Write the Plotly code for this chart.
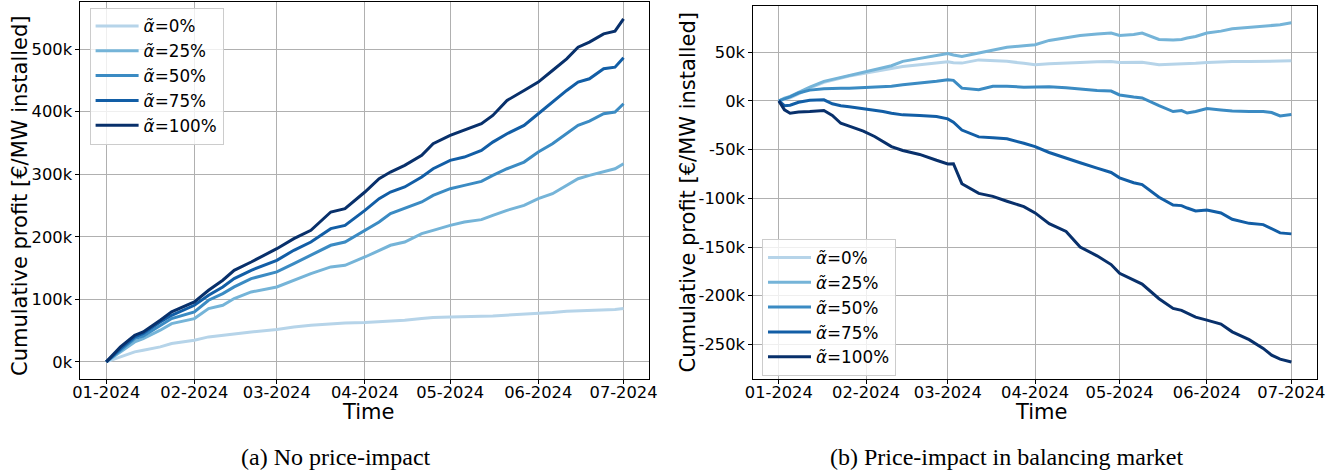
import plotly.graph_objects as go

# ---------------- data (values in thousands of EUR per MW installed) ----------------
labels = ["<i>α̃</i>=0%", "<i>α̃</i>=25%", "<i>α̃</i>=50%", "<i>α̃</i>=75%", "<i>α̃</i>=100%"]
colors = ["#b6d4e9", "#75b4d8", "#3b8bc3", "#125ea6", "#08306b"]

# (a) No price-impact
dates_a = ["2024-01-01", "2024-01-06", "2024-01-11", "2024-01-14", "2024-01-20", "2024-01-24",
           "2024-02-01", "2024-02-06", "2024-02-11", "2024-02-15", "2024-02-21", "2024-03-01",
           "2024-03-07", "2024-03-13", "2024-03-20", "2024-03-25", "2024-04-01", "2024-04-06",
           "2024-04-10", "2024-04-15", "2024-04-21", "2024-04-25", "2024-05-01", "2024-05-06",
           "2024-05-12", "2024-05-16", "2024-05-21", "2024-05-27", "2024-06-01", "2024-06-06",
           "2024-06-11", "2024-06-15", "2024-06-19", "2024-06-24", "2024-06-28", "2024-07-01"]
a_0 = [0, 8.0, 16.0, 18.6, 24.0, 29.3, 34.6, 39.9, 42.6, 45.3, 47.9, 51.7, 55.9, 58.6, 61.2, 62.3,
       62.8, 63.9, 65.5, 66.6, 69.2, 70.8, 71.9, 71.9, 72.9, 73.5, 74.5, 76.1, 77.2, 78.8, 80.9,
       81.5, 82.5, 83.6, 83.6, 85.2]
a_25 = [0, 16.0, 31.9, 37.3, 50.6, 61.2, 69.2, 85.2, 90.5, 101.2, 111.8, 119.8, 130.5, 141.1, 151.8,
        154.4, 167.7, 178.4, 186.4, 191.7, 205.0, 210.3, 218.3, 223.6, 227.4, 234.3, 242.3, 250.3,
        260.9, 268.9, 282.2, 292.9, 298.2, 303.5, 308.8, 316.8]
a_50 = [0, 18.6, 37.3, 41.0, 58.6, 69.2, 79.9, 98.5, 109.2, 119.8, 133.1, 143.8, 157.1, 170.4, 186.4,
        191.7, 210.3, 223.6, 237.0, 244.9, 255.6, 266.2, 276.9, 282.2, 288.6, 298.2, 308.8, 319.5,
        335.5, 348.8, 364.8, 378.1, 385.0, 396.7, 399.4, 412.7]
a_75 = [0, 21.3, 39.9, 45.3, 63.9, 74.5, 90.5, 106.5, 119.8, 133.1, 146.4, 162.4, 178.4, 191.7, 213.0,
        218.3, 242.3, 260.9, 271.6, 279.6, 295.5, 308.8, 322.2, 327.5, 338.1, 351.4, 364.8, 378.1,
        396.7, 415.3, 434.0, 447.3, 452.6, 468.6, 471.2, 486.2]
a_100 = [0, 24.0, 42.6, 47.9, 66.6, 79.9, 95.8, 114.5, 130.5, 146.4, 159.7, 181.0, 197.0, 210.3, 239.6,
         244.9, 271.6, 292.9, 303.5, 314.2, 330.1, 348.8, 362.1, 370.1, 380.7, 394.0, 418.0, 434.0,
         447.3, 465.9, 484.6, 503.2, 511.2, 524.5, 528.8, 548.5]

# (b) Price-impact in balancing market
dates_b = ["2024-01-01", "2024-01-03", "2024-01-05", "2024-01-08", "2024-01-12", "2024-01-17",
           "2024-01-20", "2024-01-23", "2024-01-26", "2024-01-31", "2024-02-04", "2024-02-07",
           "2024-02-10", "2024-02-14", "2024-02-20", "2024-02-26", "2024-03-01", "2024-03-03",
           "2024-03-06", "2024-03-12", "2024-03-17", "2024-03-22", "2024-03-28", "2024-04-01",
           "2024-04-06", "2024-04-12", "2024-04-17", "2024-04-23", "2024-04-28", "2024-05-01",
           "2024-05-06", "2024-05-09", "2024-05-15", "2024-05-20", "2024-05-23", "2024-05-25",
           "2024-05-28", "2024-06-01", "2024-06-06", "2024-06-10", "2024-06-16", "2024-06-21",
           "2024-06-24", "2024-06-27", "2024-07-01"]
b_0 = [0, 1.7, 3, 7, 13, 19, 21, 23.5, 25.5, 28, 30, 31.8, 33.5, 35.3, 37, 38.7, 40, 39, 38.7, 42,
       41, 40.5, 38.5, 37, 38, 39, 39.4, 40, 40.4, 39.4, 39.4, 39.5, 37, 37.5, 37.7, 38, 38.5, 39.4,
       40, 40.4, 40.4, 40.8, 41, 41, 41]
b_25 = [0, 2.7, 4.5, 8.6, 14, 20, 22, 24, 26, 29, 31.5, 33.5, 36, 40.5, 43.5, 46.5, 48.5, 47, 45.5,
        49, 52.4, 55, 56.5, 57.5, 62, 64.5, 67, 68.5, 69.5, 67, 68, 69.5, 63, 62.5, 63, 64.5, 66,
        69.5, 71.5, 74, 75.5, 77, 77.5, 78, 80]
b_50 = [0, 2, 4, 8, 11, 12.5, 13, 13, 13, 13.5, 14, 14.5, 15, 16.4, 18, 20, 21.5, 21, 13, 11.3,
        15, 15, 14, 14, 14.5, 13.5, 12, 10.5, 10, 6, 4, 3, -5, -11, -10, -12.5, -11, -8, -9.5,
        -10.5, -11, -11, -12, -15.5, -14]
b_75 = [0, -5, -4.5, -1.5, 0.5, 1, -3, -5, -6, -8, -9.5, -11, -12.7, -14.4, -15, -16, -18.5, -22,
        -30, -37, -38, -39, -43.5, -47, -53, -59, -63.5, -69, -73.5, -79, -84, -86, -99, -107,
        -107.5, -110, -113, -112, -115, -121.5, -125.7, -127, -131, -135.5, -136.5]
b_100 = [0, -9.2, -12.7, -11.5, -11, -10, -15, -23, -26, -31, -36.6, -41.8, -47, -51, -55, -61,
         -64.7, -64.5, -85, -95, -98, -103, -108.6, -115, -126, -134, -150, -159, -168, -177,
         -184, -188, -203, -213, -215, -218, -222, -225, -229, -237, -245, -254, -261, -265, -268]

series_a = [a_0, a_25, a_50, a_75, a_100]
series_b = [b_0, b_25, b_50, b_75, b_100]

ytick_a = [0, 100, 200, 300, 400, 500]
ytext_a = ["0k", "100k", "200k", "300k", "400k", "500k"]
ytick_b = [-250, -200, -150, -100, -50, 0, 50]
ytext_b = ["-250k", "-200k", "-150k", "-100k", "-50k", "0k", "50k"]

# ---------------- figure ----------------
FONT = "DejaVu Sans"
fig = go.Figure()
for lab, col, ys in zip(labels, colors, series_a):
    fig.add_trace(go.Scatter(x=dates_a, y=ys, mode="lines", name=lab,
                             line=dict(color=col, width=3), xaxis="x", yaxis="y",
                             legend="legend"))
for lab, col, ys in zip(labels, colors, series_b):
    fig.add_trace(go.Scatter(x=dates_b, y=ys, mode="lines", name=lab,
                             line=dict(color=col, width=3), xaxis="x2", yaxis="y2",
                             legend="legend2"))

W, H = 1340, 471
xrange = ["2023-12-22 21:36", "2024-07-10 02:24"]
axis_common = dict(showgrid=True, gridcolor="#b0b0b0", gridwidth=1, showline=True,
                   linecolor="#000000", linewidth=1, mirror=True, ticks="outside",
                   ticklen=4, tickcolor="#000000", zeroline=False,
                   tickfont=dict(family=FONT, size=16.3, color="#000000"))
xcommon = dict(axis_common, type="date", range=xrange, tickformat="%m-%Y",
               dtick="M1", tick0="2024-01-01", ticklabelstandoff=-6)

legend_common = dict(xanchor="left", yanchor="top", bgcolor="rgba(255,255,255,0.8)",
                     bordercolor="#cccccc", borderwidth=1,
                     font=dict(family=FONT, size=16.8, color="#000000"),
                     itemwidth=43)

fig.update_layout(
    width=W, height=H, margin=dict(l=0, r=0, t=0, b=0),
    paper_bgcolor="white", plot_bgcolor="white", template="none",
    font=dict(family=FONT, color="#000000"),
    xaxis=dict(xcommon, domain=[80.4 / W, 649.4 / W], anchor="y"),
    yaxis=dict(axis_common, domain=[1 - 379 / H, 1 - 1.7 / H], anchor="x",
               range=[-27.4, 575.9], tickvals=ytick_a, ticktext=ytext_a),
    xaxis2=dict(xcommon, domain=[753.2 / W, 1317 / W], anchor="y2"),
    yaxis2=dict(axis_common, domain=[1 - 379 / H, 1 - 5.7 / H], anchor="x2",
                range=[-285.4, 97.6], tickvals=ytick_b, ticktext=ytext_b),
    legend=dict(legend_common, x=89.6 / W, y=1 - 7.5 / H),
    legend2=dict(legend_common, x=762 / W, y=1 - 239 / H),
    showlegend=True,
)

ann = [
    dict(text="Cumulative profit [€/MW installed]", x=20 / W, y=1 - 196 / H, textangle=-90,
         font=dict(family=FONT, size=21)),
    dict(text="Cumulative profit [€/MW installed]", x=687 / W, y=1 - 192.5 / H, textangle=-90,
         font=dict(family=FONT, size=21)),
    dict(text="Time", x=367.7 / W, y=1 - 412 / H, font=dict(family=FONT, size=21)),
    dict(text="Time", x=1041 / W, y=1 - 412 / H, font=dict(family=FONT, size=21)),
    dict(text="(a) No price-impact", x=336 / W, y=1 - 456.8 / H,
         font=dict(family="Liberation Serif", size=24)),
    dict(text="(b) Price-impact in balancing market", x=1007 / W, y=1 - 456.8 / H,
         font=dict(family="Liberation Serif", size=24)),
]
for a in ann:
    a.update(xref="paper", yref="paper", showarrow=False, xanchor="center", yanchor="middle")
    a["font"]["color"] = "#000000"
fig.update_layout(annotations=ann)

fig.write_html("out.html", config={"displayModeBar": False},
               post_script="document.body.style.margin='0px';document.body.style.overflow='hidden';")
